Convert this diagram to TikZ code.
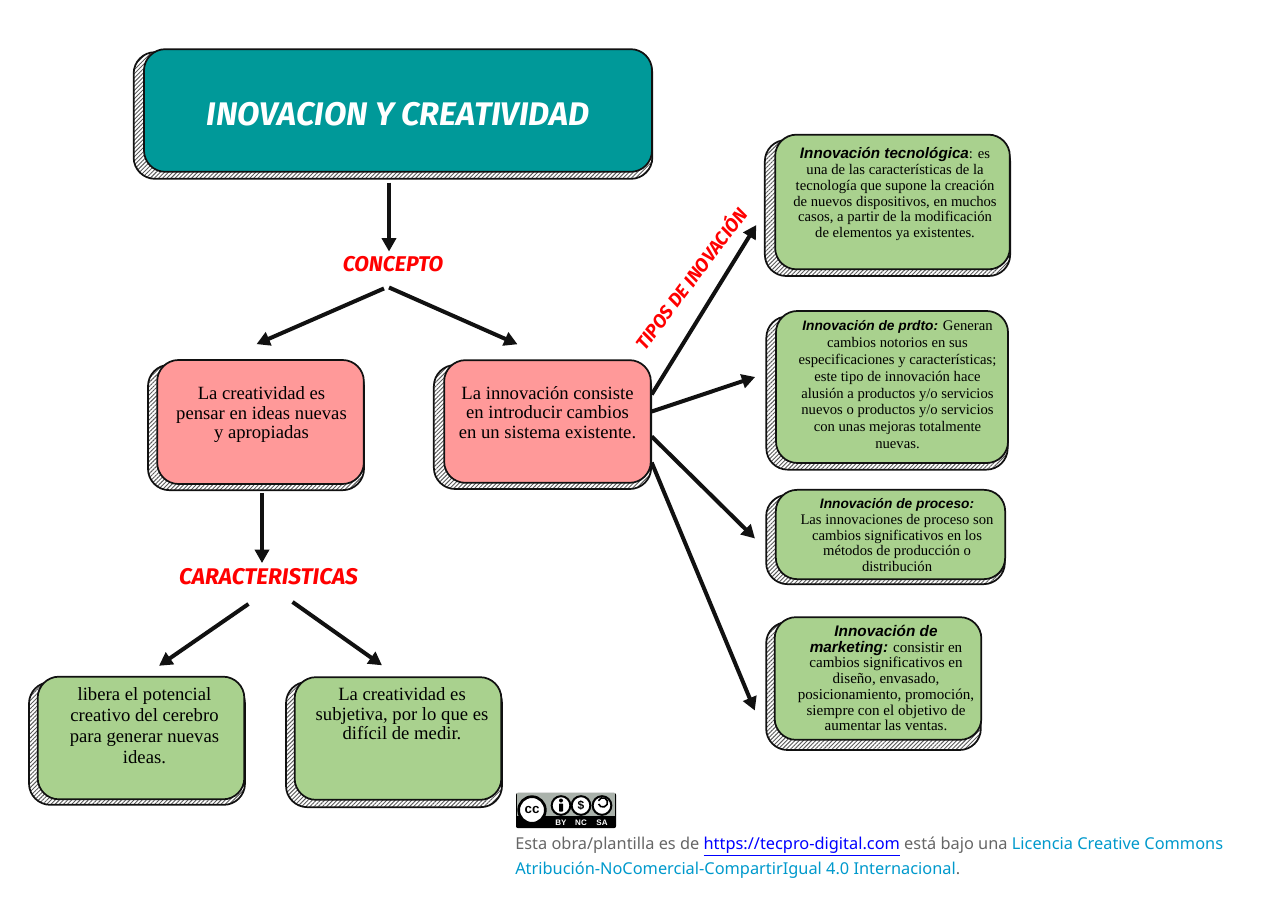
\documentclass[tikz,border=0pt]{standalone}
\usepackage{fontspec}
\setmainfont{Liberation Serif}
\newfontfamily\headfont{Fira Sans}
\newfontfamily\labelfont{Liberation Sans}
\newfontfamily\footfont{Noto Sans}
\usetikzlibrary{arrows.meta,calc,patterns.meta}
\definecolor{Teal}{HTML}{009999}
\definecolor{Rose}{HTML}{FF9999}
\definecolor{Leaf}{HTML}{A9D18E}
\definecolor{Ink}{HTML}{111111}
\definecolor{FootGrey}{HTML}{666666}
\definecolor{FootCyan}{HTML}{0099CC}
\definecolor{BadgeGrey}{HTML}{AAB2AB}
\tikzset{
  mainbox/.style={rounded corners=16pt, draw=Ink, line width=1.3pt, inner sep=0pt, text=black},
  titlebox/.style={mainbox, fill=Teal, text=white, font=\headfont\bfseries\itshape\fontsize{24.5}{30}\selectfont},
  pinkbox/.style={mainbox, fill=Rose, font=\fontsize{14}{14.6}\selectfont},
  greenbox/.style={mainbox, fill=Leaf, font=\fontsize{14}{15.8}\selectfont},
  typebox/.style={mainbox, fill=Leaf, font=\fontsize{11}{11.8}\selectfont},
  hatchbox/.style={rounded corners=16pt, draw=Ink, line width=1.3pt,
    pattern={Lines[angle=45,distance=2.2pt,line width=.7pt]}, pattern color=black!65},
  redlabel/.style={text=red, font=\headfont\bfseries\itshape\fontsize{16}{18}\selectfont},
  arr/.style={-{Triangle[length=10pt,width=10.5pt]}, line width=3pt, draw=Ink},
  iconring/.style={circle, draw=black, line width=1.5pt, fill=white, minimum size=14pt, inner sep=0pt},
  badgetext/.style={text=white, inner sep=0pt, font=\labelfont\bfseries\fontsize{6}{7}\selectfont}
}
\newcommand{\typename}[2]{{\labelfont\bfseries\itshape\fontsize{#1}{11.8}\selectfont #2}}
\newcommand{\boxtext}[3]{\hspace*{#1}\makebox[0pt]{\raisebox{#2}[0pt][0pt]{\begin{tabular}{@{}c@{}}#3\end{tabular}}}}
\begin{document}
\begin{tikzpicture}[x=0.75pt,y=-0.75pt]
\useasboundingbox (0,0) rectangle (1280,905);
% shadows
\node[hatchbox,minimum width=389pt,minimum height=95pt] (titleback) at (393,115.5) {};
\node[hatchbox,minimum width=162pt,minimum height=94pt] (creaback) at (256,427.5) {};
\node[hatchbox,minimum width=163pt,minimum height=93pt] (innoback) at (542.5,427) {};
\node[hatchbox,minimum width=184pt,minimum height=102pt] (techback) at (887.5,208) {};
\node[hatchbox,minimum width=181pt,minimum height=115pt] (prodback) at (887,393) {};
\node[hatchbox,minimum width=179pt,minimum height=67pt] (procback) at (885.5,539.5) {};
\node[hatchbox,minimum width=161pt,minimum height=96pt] (markback) at (873.5,686) {};
\node[hatchbox,minimum width=162pt,minimum height=92pt] (libback) at (137,743.5) {};
\node[hatchbox,minimum width=162pt,minimum height=94pt] (subback) at (394,744.5) {};
% boxes
\node[titlebox,minimum width=381pt,minimum height=92pt] (title) at (398,110.5) {\boxtext{0pt}{-11.5pt}{INOVACION Y CREATIVIDAD}};
\node[pinkbox,minimum width=155pt,minimum height=93pt] (crea) at (260.5,422) {\boxtext{1.5pt}{1.5pt}{La creatividad es\\pensar en ideas nuevas\\y apropiadas}};
\node[pinkbox,minimum width=155pt,minimum height=92pt] (inno) at (547.5,421.5) {\boxtext{0pt}{1.5pt}{La innovación consiste\\en introducir cambios\\en un sistema existente.}};
\node[typebox,minimum width=176pt,minimum height=101pt] (tech) at (892.5,202) {\boxtext{3.8pt}{2.5pt}{\typename{11.4}{Innovación tecnológica}: es\\una de las características de la\\tecnología que supone la creación\\de nuevos dispositivos, en muchos\\casos, a partir de la modificación\\de elementos ya existentes.}};
\node[typebox,font=\fontsize{11}{12.6}\selectfont,minimum width=174pt,minimum height=114pt] (prod) at (892,387) {\boxtext{8.2pt}{-2.3pt}{\typename{10.3}{Innovación de prdto:} Generan\\cambios notorios en sus\\especificaciones y características;\\este tipo de innovación hace\\alusión a productos y/o servicios\\nuevos o productos y/o servicios\\con unas mejoras totalmente\\nuevas.}};
\node[typebox,minimum width=172pt,minimum height=67pt] (proc) at (890.5,534.5) {\boxtext{9.8pt}{-4.6pt}{\typename{10.3}{Innovación de proceso:}\\Las innovaciones de proceso son\\cambios significativos en los\\métodos de producción o\\distribución}};
\node[typebox,font=\fontsize{11.3}{11.8}\selectfont,minimum width=155pt,minimum height=92pt] (mark) at (878,678.5) {\boxtext{12pt}{-4.1pt}{\typename{11.5}{Innovación de}\\\typename{11.5}{marketing:} consistir en\\cambios significativos en\\diseño, envasado,\\posicionamiento, promoción,\\siempre con el objetivo de\\aumentar las ventas.}};
\node[greenbox,minimum width=155pt,minimum height=92pt] (lib) at (141,738) {\boxtext{5.2pt}{4.2pt}{libera el potencial\\creativo del cerebro\\para generar nuevas\\ideas.}};
\node[greenbox,font=\fontsize{14}{14.8}\selectfont,minimum width=155pt,minimum height=92pt] (sub) at (398,738.5) {\boxtext{6pt}{13.2pt}{La creatividad es\\subjetiva, por lo que es\\difícil de medir.}};
% labels
\node[redlabel] (concepto) at (393,264) {CONCEPTO};
\node[redlabel,font=\headfont\bfseries\itshape\fontsize{17}{18}\selectfont] (carac) at (268.5,577) {CARACTERISTICAS};
\node[redlabel,font=\headfont\bfseries\itshape\fontsize{14}{18}\selectfont,rotate=53] (tipos) at (690,278) {TIPOS DE INOVACIÓN};
% arrows
\draw[arr] ($(title.south)+(-9,10)$) -- ($(concepto.north)+(-4,0)$);
\draw[arr] ($(concepto.south)+(-9,12)$) -- ($(crea.north)+(-4,-15)$);
\draw[arr] ($(concepto.south)+(-4,11)$) -- ($(inno.north)+(-30,-15)$);
\draw[arr] ($(crea.south)+(1.5,8)$) -- ($(carac.north)+(-6.5,-1)$);
\draw[arr] ($(carac.south)+(-20,14)$) -- ($(lib.north)+(18,-10)$);
\draw[arr] ($(carac.south)+(24,12)$) -- ($(sub.north)+(-16,-11)$);
\foreach \x/\dy/\dx/\ey in {tech/-27/-18/23,prod/-10/-20/-10,proc/15/-20/4,mark/41/-19/32}{
  \draw[arr] ($(inno.east)+(0,\dy)$) -- ($(\x.west)+(\dx,\ey)$);
}
% licence badge
\node[fill=black,rounded corners=1.5pt,minimum width=75pt,minimum height=26.5pt,inner sep=0pt] (badge) at (566,810.5) {};
\node[fill=BadgeGrey,minimum width=73.5pt,minimum height=17pt,inner sep=0pt] (badgetop) at (566,804.5) {};
\node[circle,draw=black,line width=2pt,fill=white,minimum size=20pt,inner sep=0pt,font=\labelfont\bfseries\fontsize{10}{10}\selectfont] (cc) at (532,810) {cc};
\node[iconring] (by) at (561,805.5) {};
\node[iconring,font=\labelfont\bfseries\fontsize{9}{9}\selectfont] (nc) at (581,805.5) {\$};
\node[iconring] (sa) at (602,805.5) {};
\fill ($(by)+(0,-5)$) circle (1.5pt);
\fill[rounded corners=.5pt] ($(by)+(-2,-2)$) rectangle ($(by)+(2,6)$);
\draw[line width=1.2pt] ($(sa)+(-3.5,-1.5)$) arc[start angle=200,end angle=520,radius=3.5pt];
\node[badgetext] (bytext) at (561,823) {BY};
\node[badgetext] (nctext) at (581,823) {NC};
\node[badgetext] (satext) at (602,823) {SA};
% footer
\node[anchor=north west,inner sep=0pt,align=left,text=FootGrey,font=\footfont\fontsize{12.27}{18.75}\selectfont] (foot) at (515,837) {Esta obra/plantilla es de \textcolor{blue}{\underline{https://tecpro-digital.com}} está bajo una \textcolor{FootCyan}{Licencia Creative Commons}\\\textcolor{FootCyan}{Atribución-NoComercial-CompartirIgual 4.0 Internacional}.};
\end{tikzpicture}
\end{document}
